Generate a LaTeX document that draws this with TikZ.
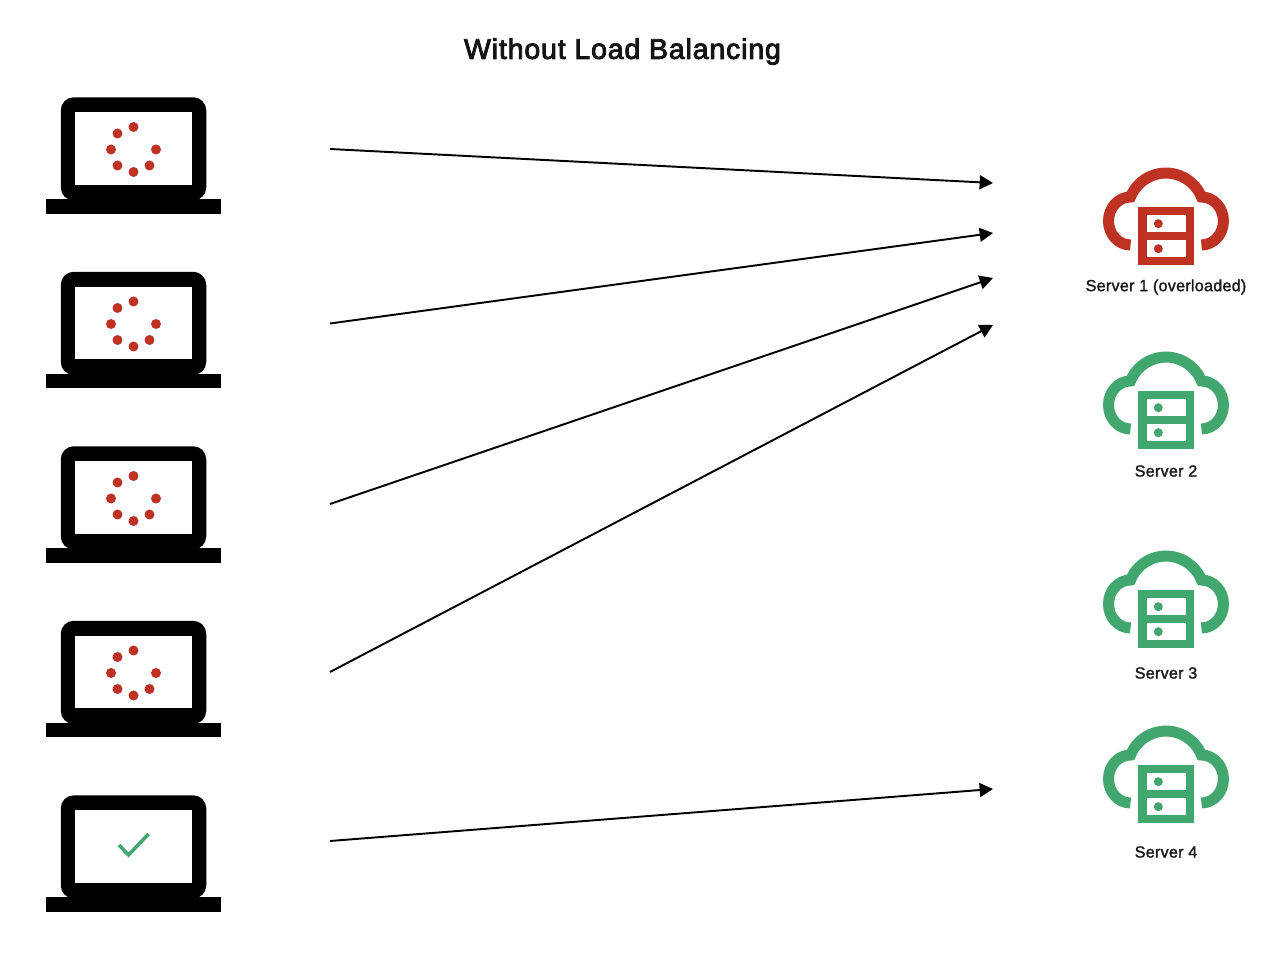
\documentclass[tikz,border=0pt]{standalone}
\usepackage{fontspec}
\setmainfont{Liberation Sans}
\newfontfamily\titlefont[FakeBold=3,LetterSpace=3]{Liberation Sans}
\newfontfamily\labelfont[FakeBold=1.5,LetterSpace=1.5]{Liberation Sans}
\usetikzlibrary{arrows.meta}
\definecolor{srvred}{RGB}{190,50,35}
\definecolor{srvgreen}{RGB}{66,167,110}
\begin{document}
\begin{tikzpicture}[
    arrow/.style={-{Triangle[length=7.6pt,width=7.9pt]}, line width=1.1pt},
    label/.style={font=\labelfont\fontsize{9.2}{11}\selectfont, align=center, text=black!90},
    laptop/.pic={
        \fill[black, rounded corners=0.26cm] (-1.455,-1.04) rectangle (1.455,1.024);
        \fill[white] (-1.164,-0.727) rectangle (1.164,0.727);
        \fill[black] (-1.744,-1.31) rectangle (1.744,-1.016);
    },
    spinner/.pic={
        \fill[srvred] (0,0.43) circle (0.1);
        \fill[srvred] (-0.32,0.30) circle (0.1);
        \fill[srvred] (-0.45,-0.02) circle (0.1);
        \fill[srvred] (-0.32,-0.34) circle (0.1);
        \fill[srvred] (0,-0.47) circle (0.1);
        \fill[srvred] (0.32,-0.34) circle (0.1);
        \fill[srvred] (0.45,-0.02) circle (0.1);
    },
    cloudsrv/.pic={
        \draw[#1, line width=0.22cm] (-0.71,-0.72) arc[start angle=-90, end angle=-270, x radius=0.44, y radius=0.48]
            arc[start angle=158, end angle=22, radius=0.765]
            arc[start angle=90, end angle=-90, x radius=0.44, y radius=0.48];
        \fill[#1] (-0.56,-1.126) rectangle (0.56,0.046);
        \fill[white] (-0.386,-0.454) rectangle (0.39,-0.12);
        \fill[white] (-0.386,-0.96) rectangle (0.39,-0.62);
        \fill[#1] (-0.154,-0.294) circle (0.09);
        \fill[#1] (-0.154,-0.794) circle (0.09);
    }
]
\useasboundingbox (0,0) rectangle (25.4,19.28);
\fill[white] (0,0) rectangle (25.4,19.28);

% Titulo
\node[font=\titlefont\fontsize{16.2}{19}\selectfont, text=black!92] (title) at (12.45,18.25) {Without Load Balancing};

% Clientes
\pic (lap1) at (2.67,16.31) {laptop};
\pic (lap2) at (2.67,12.82) {laptop};
\pic (lap3) at (2.67,9.33) {laptop};
\pic (lap4) at (2.67,5.84) {laptop};
\pic (lap5) at (2.67,2.35) {laptop};

\pic (wait1) at (2.67,16.31) {spinner};
\pic (wait2) at (2.67,12.82) {spinner};
\pic (wait3) at (2.67,9.33) {spinner};
\pic (wait4) at (2.67,5.84) {spinner};

% Check do ultimo cliente
\draw[srvgreen, line width=0.07cm] (2.38,2.38) -- (2.57,2.18) -- (2.97,2.6);

% Servidores
\pic (srv1) at (23.32,15.10) {cloudsrv=srvred};
\pic (srv2) at (23.32,11.42) {cloudsrv=srvgreen};
\pic (srv3) at (23.32,7.44) {cloudsrv=srvgreen};
\pic (srv4) at (23.32,3.94) {cloudsrv=srvgreen};

\node[label] (srv1label) at (23.32,13.54) {Server 1 (overloaded)};
\node[label] (srv2label) at (23.32,9.86) {Server 2};
\node[label] (srv3label) at (23.32,5.82) {Server 3};
\node[label] (srv4label) at (23.32,2.24) {Server 4};

% Pontas das setas
\coordinate (out1) at (6.6,16.3);
\coordinate (out2) at (6.6,12.81);
\coordinate (out3) at (6.6,9.2);
\coordinate (out4) at (6.6,5.84);
\coordinate (out5) at (6.6,2.46);
\coordinate (in1) at (19.86,15.62);
\coordinate (in2) at (19.86,14.62);
\coordinate (in3) at (19.86,13.72);
\coordinate (in4) at (19.86,12.78);
\coordinate (in5) at (19.86,3.5);

% Setas
\draw[arrow] (out1) -- (in1);
\draw[arrow] (out2) -- (in2);
\draw[arrow] (out3) -- (in3);
\draw[arrow] (out4) -- (in4);
\draw[arrow] (out5) -- (in5);

\end{tikzpicture}
\end{document}
